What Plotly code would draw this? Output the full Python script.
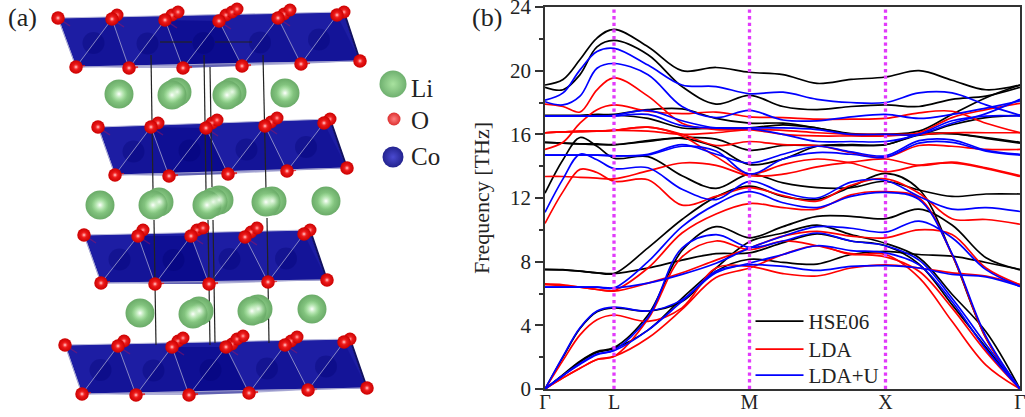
import plotly.graph_objects as go

# k-path position of every sampled point (high symmetry points at 0, 69, 204.5, 340.5, 475)
kpath = [0, 18, 35, 52, 69, 103, 137, 171, 204.5, 238, 272, 306, 340.5, 374, 407, 441, 475]
tick_pos = [0, 69, 204.5, 340.5, 475]
tick_names = ["Γ", "L", "M", "X", "Γ"]

hse_bands = [
    [19.1, 19.45, 20.7, 22.05, 22.6, 21.5, 20.0, 20.2, 19.9, 19.75, 19.2, 19.45, 19.6, 20.0, 19.4, 18.8, 19.1],
    [18.95, 18.8, 19.75, 21.5, 21.9, 21.0, 19.0, 17.9, 18.45, 17.75, 17.55, 17.75, 17.85, 17.75, 18.2, 18.4, 18.95],
    [17.2, 17.2, 17.2, 17.25, 17.25, 17.55, 17.6, 17.0, 16.7, 16.7, 16.4, 16.0, 16.0, 16.2, 17.25, 18.3, 19.1],
    [17.15, 17.15, 17.15, 17.2, 17.2, 17.0, 16.4, 16.4, 16.4, 16.6, 16.4, 16.05, 16.0, 16.0, 16.6, 17.05, 17.2],
    [15.5, 15.45, 15.4, 15.35, 15.35, 15.6, 15.8, 15.7, 15.0, 15.3, 15.3, 15.3, 15.35, 16.0, 16.05, 15.8, 15.5],
    [15.5, 15.45, 15.4, 15.4, 15.35, 15.55, 15.75, 15.2, 14.1, 14.45, 15.25, 15.35, 15.35, 15.95, 16.05, 15.75, 15.45],
    [12.3, 14.4, 15.8, 15.25, 14.5, 14.6, 13.4, 12.6, 13.5, 12.95, 12.65, 12.65, 13.05, 12.5, 12.1, 12.25, 12.25],
    [7.5, 7.48, 7.4, 7.3, 7.25, 8.87, 10.65, 12.07, 12.75, 12.1, 11.9, 12.7, 13.55, 12.55, 8.45, 3.2, 0],
    [0, 0.9, 1.75, 2.35, 2.6, 4.65, 8.7, 10.2, 9.5, 10.2, 10.85, 10.85, 10.7, 11.3, 10.3, 8.25, 7.5],
    [0, 0.85, 1.7, 2.3, 2.55, 3.7, 5.7, 7.6, 9.25, 9.8, 10.3, 9.7, 9.15, 8.25, 5.95, 3.6, 0],
    [7.52, 7.5, 7.4, 7.3, 7.25, 7.6, 8.1, 8.5, 8.55, 9.2, 9.75, 9.3, 9.0, 7.85, 5.3, 2.6, 0],
    [0, 2.0, 3.8, 4.85, 5.1, 4.9, 5.5, 7.4, 8.15, 7.95, 7.85, 8.45, 8.65, 8.45, 8.35, 7.95, 7.5],
]

lda_bands = [
    [17.9, 17.75, 17.4, 18.8, 19.55, 18.4, 16.7, 16.3, 16.3, 16.0, 15.9, 15.9, 15.9, 16.1, 17.05, 17.55, 17.95],
    [15.05, 15.5, 16.7, 17.55, 17.85, 17.45, 17.3, 17.4, 17.1, 17.05, 16.95, 16.95, 17.0, 17.35, 17.45, 16.7, 16.1],
    [16.1, 16.15, 16.15, 16.2, 16.25, 16.2, 16.0, 16.1, 16.3, 16.25, 16.1, 16.0, 16.0, 16.0, 16.1, 16.1, 16.1],
    [16.1, 16.15, 16.2, 16.2, 16.25, 16.45, 16.0, 15.3, 15.55, 15.35, 15.3, 14.85, 14.55, 15.3, 15.25, 15.05, 15.05],
    [13.35, 13.35, 13.3, 13.25, 13.2, 13.7, 14.2, 14.05, 13.4, 13.5, 13.95, 14.25, 14.45, 14.05, 14.25, 13.9, 13.4],
    [16.1, 16.15, 16.2, 16.2, 16.25, 16.45, 15.9, 14.6, 13.5, 14.1, 14.45, 14.2, 13.65, 14.05, 14.2, 13.85, 13.35],
    [10.4, 12.4, 13.8, 13.6, 13.05, 13.15, 11.55, 12.1, 12.65, 12.15, 11.8, 12.8, 13.2, 12.3, 10.7, 10.65, 10.35],
    [6.55, 6.5, 6.4, 6.25, 6.2, 7.6, 9.8, 11.0, 11.65, 11.4, 11.3, 12.2, 12.4, 12.0, 8.45, 3.2, 0],
    [6.6, 6.55, 6.4, 6.25, 6.15, 6.65, 7.3, 8.1, 8.85, 9.6, 9.9, 9.6, 9.5, 10.0, 9.7, 7.6, 6.55],
    [0, 0.7, 1.3, 1.85, 2.05, 4.4, 8.3, 9.3, 8.75, 9.3, 9.0, 8.5, 8.3, 7.4, 5.1, 2.35, 0],
    [0, 0.7, 1.3, 1.85, 2.05, 3.2, 5.0, 7.0, 7.6, 8.45, 9.0, 8.45, 8.45, 7.0, 4.25, 1.5, 0],
    [0, 1.8, 3.4, 4.35, 4.65, 4.25, 5.1, 7.6, 7.7, 7.25, 7.1, 7.6, 7.8, 7.6, 7.3, 7.1, 6.55],
]

ldau_bands = [
    [18.15, 18.6, 20.05, 21.2, 21.4, 20.35, 19.1, 19.0, 18.55, 18.65, 18.2, 18.0, 18.0, 18.6, 18.6, 17.85, 17.2],
    [18.05, 17.85, 18.4, 20.15, 20.45, 19.75, 17.75, 17.05, 17.5, 16.9, 16.85, 17.1, 17.25, 17.0, 17.25, 17.65, 18.1],
    [17.15, 17.15, 17.15, 17.15, 17.2, 17.5, 16.85, 16.4, 16.4, 16.4, 16.3, 16.0, 16.0, 16.0, 16.7, 17.3, 18.2],
    [17.15, 17.15, 17.15, 17.15, 17.15, 17.25, 16.55, 16.4, 16.35, 16.0, 15.55, 15.55, 15.55, 16.0, 16.85, 17.15, 17.15],
    [14.7, 14.7, 14.7, 14.7, 14.65, 14.75, 15.35, 14.75, 14.2, 14.75, 15.25, 14.9, 14.65, 15.6, 15.65, 15.0, 14.75],
    [14.7, 14.7, 14.7, 14.7, 14.65, 14.7, 15.25, 14.95, 13.5, 14.45, 14.85, 14.75, 14.55, 15.45, 15.5, 14.95, 14.7],
    [11.1, 13.2, 14.75, 14.4, 13.85, 13.9, 12.55, 11.9, 13.05, 12.35, 12.0, 13.0, 13.1, 12.1, 11.3, 11.4, 11.15],
    [6.4, 6.4, 6.4, 6.4, 6.35, 8.0, 10.2, 11.6, 12.4, 11.7, 11.4, 12.1, 12.35, 11.9, 8.5, 3.3, 0],
    [6.4, 6.4, 6.4, 6.4, 6.35, 6.65, 7.2, 7.9, 8.85, 9.6, 10.2, 10.1, 9.85, 10.55, 9.5, 7.5, 6.45],
    [0, 0.85, 1.6, 2.2, 2.45, 4.5, 8.85, 9.7, 8.9, 9.3, 9.8, 9.3, 9.0, 8.1, 5.7, 2.8, 0],
    [0, 0.85, 1.55, 2.15, 2.4, 3.7, 5.5, 7.3, 7.9, 8.45, 9.0, 8.7, 8.55, 7.8, 5.5, 2.5, 0],
    [0, 2.05, 3.85, 4.9, 5.15, 4.9, 5.6, 7.4, 7.8, 7.7, 7.45, 7.7, 7.75, 7.6, 7.2, 7.05, 6.45],
]

series = [
    ("HSE06", "#000000", hse_bands, "legend"),
    ("LDA", "#ff0000", lda_bands, "legend2"),
    ("LDA+U", "#0000ff", ldau_bands, "legend3"),
]

# crystal picture, positions
layer1_top = [(58, 18), (112, 19), (165, 20), (219, 21), (278, 18), (337, 15)]
layer1_bottom = [(76, 67), (129, 68), (183, 68), (242, 66), (301, 64), (360, 61)]
layer1_back = [(117, 15), (172, 15), (178, 12), (226, 15), (232, 12), (237, 9), (284, 14), (290, 10), (344, 12)]
layer2_top = [(98, 127), (151, 127), (206, 128), (265, 126), (324, 123)]
layer2_bottom = [(115, 175), (169, 176), (228, 174), (287, 171), (347, 168)]
layer2_back = [(158, 123), (212, 123), (217, 120), (271, 122), (277, 118), (330, 119)]
layer3_top = [(84, 235), (138, 236), (191, 236), (245, 237), (304, 234)]
layer3_bottom = [(101, 283), (155, 284), (209, 284), (268, 282), (327, 280)]
layer3_back = [(143, 230), (197, 230), (203, 228), (251, 232), (257, 228), (310, 230)]
layer4_top = [(65, 345), (118, 346), (172, 347), (226, 347), (285, 345), (344, 342)]
layer4_bottom = [(82, 394), (136, 395), (189, 395), (249, 393), (308, 390), (367, 388)]
layer4_back = [(124, 341), (178, 341), (183, 338), (232, 344), (237, 339), (243, 336), (291, 341), (297, 337), (350, 339)]
layers = [
    (layer1_top, layer1_bottom, layer1_back),
    (layer2_top, layer2_bottom, layer2_back),
    (layer3_top, layer3_bottom, layer3_back),
    (layer4_top, layer4_bottom, layer4_back),
]

li_atoms = [
    (177, 92), (232, 92), (119, 94), (172, 95), (227, 95), (285, 93),
    (219, 200), (159, 202), (213, 202), (272, 201), (100, 205), (153, 205), (207, 205), (266, 202), (326, 201),
    (199, 311), (258, 309), (140, 313), (193, 314), (252, 311), (312, 309),
]
cell_lines = [
    ((151, 55), (153, 190)), ((204, 55), (206, 190)), ((210, 67), (212, 187)), ((263, 55), (266, 190)),
    ((154, 220), (156, 345)), ((208, 220), (210, 345)), ((213, 220), (215, 343)), ((267, 218), (269, 343)),
    ((160, 42), (192, 42)), ((215, 42), (252, 42)),
]

fig = go.Figure()

# bands
for name, col, bands, leg in series:
    for i, b in enumerate(bands):
        fig.add_trace(go.Scatter(
            x=kpath, y=b, mode="lines", name=name, legendgroup=name, showlegend=i == 0, legend=leg,
            line=dict(color=col, width=1.7, shape="spline", smoothing=1),
            xaxis="x", yaxis="y",
        ))


def pic(x, y, **kw):
    fig.add_trace(go.Scatter(x=x, y=y, xaxis="x2", yaxis="y2", showlegend=False, hoverinfo="skip", **kw))


def seg(a, b, col, w):
    pic([a[0], b[0]], [a[1], b[1]], mode="lines", line=dict(color=col, width=w))


def ball(pts, size, edge, centre, shine=None, shine_size=0.5):
    pic([p[0] for p in pts], [p[1] for p in pts], mode="markers",
        marker=dict(size=size, color=edge, gradient=dict(type="radial", color=centre), line_width=0))
    if shine:
        pic([p[0] for p in pts], [p[1] for p in pts], mode="markers",
            marker=dict(size=size * shine_size, color=shine[0], gradient=dict(type="radial", color=shine[1]), line_width=0))


# crystal layers
for top, bottom, back in layers:
    outline = [top[0], back[-1], bottom[-1], bottom[0], top[0]]
    pic([p[0] for p in outline], [p[1] for p in outline], mode="lines", fill="toself",
        fillcolor="#1d1da3", line=dict(color="#b9b9dc", width=1))
    n = min(len(top), len(bottom))
    for i in range(n - 1):
        tri = [top[i + 1], bottom[i], bottom[i + 1], top[i + 1]]
        pic([p[0] for p in tri], [p[1] for p in tri], mode="lines", fill="toself",
            fillcolor="rgba(0,0,130,0.3)", line=dict(color="rgba(0,0,0,0)", width=0))
    # middle of the sheet is darker in the picture
    mid = [top[n // 2 - 1], top[n // 2], bottom[n // 2], bottom[n // 2 - 1], top[n // 2 - 1]]
    pic([p[0] for p in mid], [p[1] for p in mid], mode="lines", fill="toself",
        fillcolor="rgba(0,0,130,0.45)", line=dict(color="rgba(0,0,0,0)", width=0))
    # dim Co spheres inside the octahedra
    co = [((top[i][0] + bottom[i + 1][0]) / 2, (top[i][1] + bottom[i + 1][1]) / 2) for i in range(n - 1)]
    pic([p[0] for p in co], [p[1] for p in co], mode="markers",
        marker=dict(size=22, color="rgba(0,0,110,0.3)", line_width=0))
    for i in range(n - 1):
        seg(top[i + 1], bottom[i], "#a3a3d0", 0.8)
        seg(top[i], bottom[i], "#a3a3d0", 0.8)
        # short purple O-Co bond stubs
        seg(top[i], (top[i][0] + 12, top[i][1] + 8), "rgba(170,20,90,0.45)", 1.5)
        seg(bottom[i], (bottom[i][0] + 9, bottom[i][1] - 1), "rgba(230,20,20,0.8)", 2)
    seg(back[-1], bottom[-1], "#101060", 2)
    seg(bottom[0], bottom[-1], "#a3a3d0", 1)

for a, b in cell_lines:
    seg(a, b, "#222222", 1.2)

ball(li_atoms, 29, "#6aab68", "#a5e59e", ("rgba(165,229,158,0)", "#ffffff"), 0.6)
for top, bottom, back in layers:
    ball(back, 13, "#cc0000", "#ff3030", ("rgba(255,60,60,0)", "#ffc0c0"), 0.45)
    ball(top + bottom, 13.5, "#cc0000", "#ff2a2a", ("rgba(255,60,60,0)", "#ffe6e6"), 0.45)

# element key
ball([(393, 84)], 27, "#6fb06f", "#a8e29f")
ball([(394, 119)], 13, "#dd3030", "#ff8080")
ball([(393, 157)], 21, "#23238f", "#4a4ad0")

# high symmetry lines
for k in tick_pos[1:-1]:
    fig.add_trace(go.Scatter(
        x=[k, k], y=[0, 24], mode="lines", showlegend=False, hoverinfo="skip",
        line=dict(color="#e13bfa", width=3.3, dash="dot"), xaxis="x", yaxis="y",
    ))

serif = "Liberation Serif"
ink = "#333333"
labels = [("(a)", 6, 18, 26), ("(b)", 470, 18, 26), ("Li", 409, 88, 25), ("O", 409, 121, 25), ("Co", 409, 156, 25)]


def legend_at(py):
    return dict(
        x=750.5 / 1025, y=1 - py / 417, xanchor="left", yanchor="top",
        bgcolor="rgba(0,0,0,0)", itemwidth=48, font=dict(size=21),
    )


fig.update_layout(
    width=1025,
    height=417,
    margin=dict(l=0, r=0, t=0, b=0, autoexpand=False),
    paper_bgcolor="white",
    plot_bgcolor="rgba(0,0,0,0)",
    font=dict(family=serif, color="#222222", size=21),
    xaxis=dict(
        domain=[545 / 1025, 1020 / 1025], range=[0, 475], anchor="y",
        tickmode="array", tickvals=tick_pos, ticktext=tick_names, ticks="",
        showgrid=False, zeroline=False, showline=True, linecolor=ink, linewidth=1.5, mirror=True,
        ticklabeloverflow="allow", ticklabelstandoff=-6, tickfont=dict(size=20),
    ),
    yaxis=dict(
        domain=[1 - 389 / 417, 1 - 7 / 417], range=[0, 24], anchor="x",
        dtick=4, ticks="outside", ticklen=8, tickwidth=1.5, tickcolor=ink,
        minor=dict(dtick=2, ticks="outside", ticklen=4, tickwidth=1.5, tickcolor=ink),
        showgrid=False, zeroline=False, showline=True, linecolor=ink, linewidth=1.5, mirror=True,
        ticklabeloverflow="allow",
        title=dict(text="Frequency [THz]", font=dict(size=22), standoff=14),
    ),
    xaxis2=dict(domain=[0, 460 / 1025], range=[0, 460], visible=False, anchor="y2"),
    yaxis2=dict(domain=[0, 1], range=[417, 0], visible=False, anchor="x2"),
    legend=legend_at(301),
    legend2=legend_at(329),
    legend3=legend_at(355),
    annotations=[
        dict(text=t, x=px / 1025, y=1 - py / 417, xref="paper", yref="paper",
             xanchor="left", yanchor="middle", showarrow=False, font=dict(size=s))
        for t, px, py, s in labels
    ],
)

# page default body margin would push the chart off the 1025x417 window
fig.write_html("out.html", config=dict(displayModeBar=False), post_script="document.body.style.margin='0';")
